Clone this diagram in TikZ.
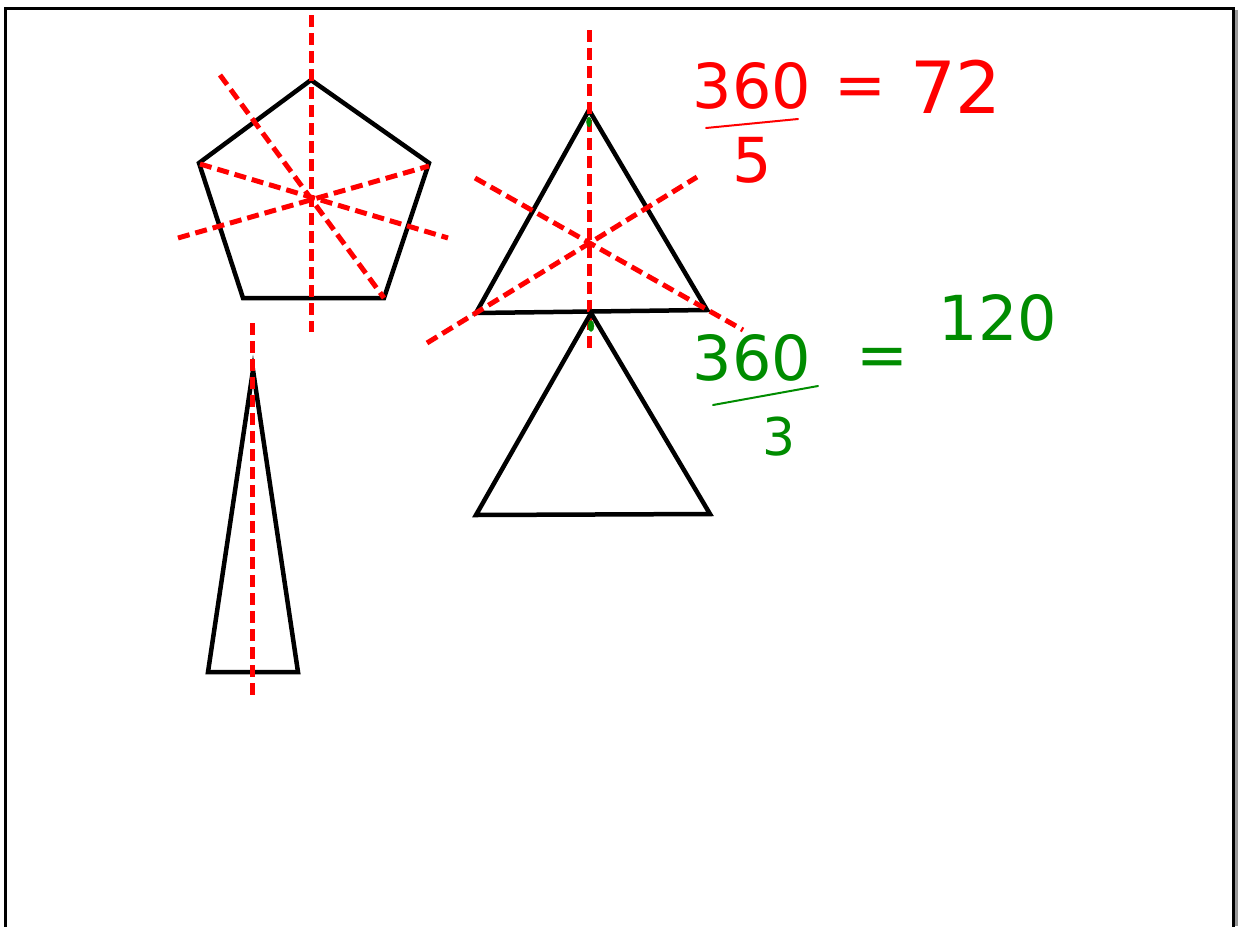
\documentclass[tikz,border=0pt]{standalone}
\usepackage{fontspec}
\usetikzlibrary{shapes.geometric}
\newfontfamily\handfont{DejaVu Sans}
\begin{document}
\begin{tikzpicture}[x=1pt,y=-1pt,
  shape line/.style={line width=4.5pt,line join=miter,black},
  axis line/.style={line width=5pt,red,dash pattern=on 12pt off 6pt},
  redtext/.style={text=red,font=\handfont\fontsize{62}{62}\selectfont,inner sep=0pt},
  greentext/.style={text=green!55!black,font=\handfont\fontsize{62}{62}\selectfont,inner sep=0pt},
  redbar/.style={red,line width=2pt,line cap=round},
  greenbar/.style={green!55!black,line width=2pt,line cap=round},
  greendot/.style={draw=green!55!black,fill=green!55!black,ellipse,inner sep=0pt}]
\useasboundingbox (0,0) rectangle (1238,926);
% frame
\fill[gray!80] (1233,10) rectangle (1238,926);
\draw[line width=3pt] (5,930) -- (5,8) -- (1233,8) -- (1233,930);
% pentagon
\coordinate (p1) at (311,80);
\coordinate (p2) at (429,163);
\coordinate (p3) at (384,298);
\coordinate (p4) at (243,298);
\coordinate (p5) at (199,163);
\draw[shape line] (p1) -- (p2) -- (p3) -- (p4) -- (p5) -- cycle;
\coordinate (pa1) at (311,15); \coordinate (pb1) at (311,332);
\coordinate (pa2) at (220,75); \coordinate (pb2) at (384,298);
\coordinate (pa3) at (178,238); \coordinate (pb3) at (429,166);
\coordinate (pa4) at (200,164); \coordinate (pb4) at (448,238);
\draw[axis line] (pa1) -- (pb1);
\draw[axis line] (pa2) -- (pb2);
\draw[axis line] (pa3) -- (pb3);
\draw[axis line] (pa4) -- (pb4);
% tall triangle
\coordinate (t1) at (253,370);
\coordinate (t2) at (298,672);
\coordinate (t3) at (208,672);
\draw[shape line] (t1) -- (t2) -- (t3) -- cycle;
\coordinate (ta) at (252,323); \coordinate (tb) at (252,700);
\draw[axis line] (ta) -- (tb);
% upper equilateral triangle
\coordinate (e1) at (589,110);
\coordinate (e2) at (707,310);
\coordinate (e3) at (476,313);
\draw[shape line] (e1) -- (e2) -- (e3) -- cycle;
\coordinate (ea1) at (589,30); \coordinate (eb1) at (589,350);
\coordinate (ea2) at (475,178); \coordinate (eb2) at (743,330);
\coordinate (ea3) at (427,343); \coordinate (eb3) at (697,177);
\draw[axis line] (ea1) -- (eb1);
\draw[axis line] (ea2) -- (eb2);
\draw[axis line] (ea3) -- (eb3);
% lower triangle
\coordinate (f1) at (591,313);
\coordinate (f2) at (710,514);
\coordinate (f3) at (476,515);
\draw[shape line] (f1) -- (f2) -- (f3) -- cycle;
% green marks
\node[greendot,minimum width=5pt,minimum height=10pt] (g1) at (589,122) {};
\node[greendot,minimum width=6pt,minimum height=11pt] (g2) at (591,326) {};
% red formula
\node[redtext] (r360) at (752,86) {360};
\coordinate (rb1) at (706,128); \coordinate (rb2) at (798,119);
\draw[redbar] (rb1) -- (rb2);
\node[redtext] (r5) at (752,160) {5};
\node[redtext] (req) at (860,92) {=};
\node[redtext,font=\handfont\fontsize{72}{72}\selectfont] (r72) at (956,87) {72};
% green formula
\node[greentext] (g360) at (752,358) {360};
\coordinate (gb1) at (713,405); \coordinate (gb2) at (818,386);
\draw[greenbar] (gb1) -- (gb2);
\node[greentext,font=\handfont\fontsize{52}{52}\selectfont] (g3) at (779,437) {3};
\node[greentext] (geq) at (882,362) {=};
\node[greentext] (g120) at (998,318) {120};
\end{tikzpicture}
\end{document}
